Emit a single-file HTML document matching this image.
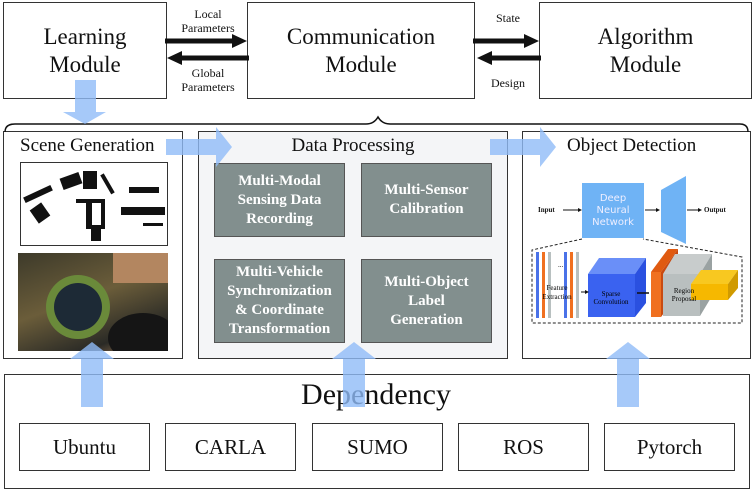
<!DOCTYPE html>
<html><head><meta charset="utf-8"><style>
body{margin:0;width:752px;height:490px;background:#fff;position:relative;overflow:hidden;font-family:"Liberation Serif",serif;color:#111}
.b{position:absolute;border:1.3px solid #333;box-sizing:border-box;background:#fff}
.c{display:flex;align-items:center;justify-content:center;text-align:center}
.g{position:absolute;background:#828f8e;border:1.5px solid #555;box-sizing:border-box;color:#fff;font-weight:bold;font-size:15px;line-height:19px;display:flex;align-items:center;justify-content:center;text-align:center}
.t{position:absolute;font-size:12px;text-align:center;line-height:14px}
.d{position:absolute;top:423px;height:48px;width:131px;font-size:21px}
svg{position:absolute;left:0;top:0}
</style></head><body>
<div class="b c" style="left:3px;top:2px;width:164px;height:97px;font-size:23px;line-height:28px">Learning<br>Module</div>
<div class="b c" style="left:247px;top:2px;width:228px;height:97px;font-size:23px;line-height:28px">Communication<br>Module</div>
<div class="b c" style="left:539px;top:2px;width:213px;height:97px;font-size:23px;line-height:28px">Algorithm<br>Module</div>
<div class="t" style="left:170px;top:7px;width:76px">Local<br>Parameters</div>
<div class="t" style="left:170px;top:66px;width:76px">Global<br>Parameters</div>
<div class="t" style="left:480px;top:11px;width:56px">State</div>
<div class="t" style="left:480px;top:76px;width:56px">Design</div>

<div class="b" style="left:3px;top:131px;width:180px;height:228px"></div>
<div style="position:absolute;left:20px;top:135px;font-size:19px">Scene Generation</div>
<div style="position:absolute;left:20px;top:162px;width:146px;height:82px;border:1px solid #333;background:#fff;overflow:hidden">
<svg width="146" height="82"><g fill="#111">
<rect x="40" y="12" width="20" height="12" transform="rotate(-20 50 18)"/><rect x="62" y="8" width="14" height="18"/><rect x="84" y="10" width="4" height="22" transform="rotate(-30 86 20)"/><rect x="100" y="44" width="44" height="8"/><rect x="65" y="36" width="6" height="30"/><rect x="80" y="36" width="4" height="30"/><rect x="2" y="28" width="30" height="6" transform="rotate(-25 17 31)"/><rect x="12" y="42" width="14" height="16" transform="rotate(-35 19 50)"/><rect x="108" y="24" width="30" height="6"/><rect x="55" y="36" width="28" height="4"/><rect x="70" y="62" width="10" height="16"/><rect x="122" y="60" width="20" height="3"/></g></svg></div>
<div style="position:absolute;left:18px;top:253px;width:150px;height:98px;background:linear-gradient(160deg,#3d3a2a,#6b5d3a 45%,#2a2a26 80%,#b08458);overflow:hidden">
<div style="position:absolute;left:28px;top:22px;width:64px;height:64px;border-radius:50%;background:#6a8a3a"></div>
<div style="position:absolute;left:36px;top:30px;width:48px;height:48px;border-radius:50%;background:#1d2a36"></div>
<div style="position:absolute;left:95px;top:0;width:55px;height:30px;background:#b38660"></div>
<div style="position:absolute;left:90px;top:60px;width:70px;height:50px;border-radius:50%;background:#151515"></div></div>

<div class="b" style="left:198px;top:131px;width:310px;height:228px;background:#f4f5f7"></div>
<div style="position:absolute;left:198px;top:135px;width:310px;text-align:center;font-size:19px">Data Processing</div>
<div class="g" style="left:214px;top:163px;width:131px;height:74px">Multi-Modal<br>Sensing Data<br>Recording</div>
<div class="g" style="left:361px;top:163px;width:131px;height:74px">Multi-Sensor<br>Calibration</div>
<div class="g" style="left:214px;top:259px;width:131px;height:84px">Multi-Vehicle<br>Synchronization<br>&amp; Coordinate<br>Transformation</div>
<div class="g" style="left:361px;top:259px;width:131px;height:84px">Multi-Object<br>Label<br>Generation</div>

<div class="b" style="left:522px;top:131px;width:229px;height:228px"></div>
<div style="position:absolute;left:567px;top:135px;font-size:19px">Object Detection</div>
<div class="c" style="position:absolute;left:582px;top:183px;width:62px;height:55px;background:#6fb3f5;color:#eef;font-family:'DejaVu Sans',sans-serif;font-size:10px;line-height:12px">Deep<br>Neural<br>Network</div>
<div class="t" style="left:538px;top:203px;font-size:7px;font-weight:bold">Input</div>
<div class="t" style="left:704px;top:203px;font-size:7px;font-weight:bold">Output</div>

<div class="b" style="left:4px;top:374px;width:746px;height:115px"></div>
<div style="position:absolute;left:0;top:378px;width:752px;text-align:center;font-size:30px">Dependency</div>
<div class="b c d" style="left:19px">Ubuntu</div>
<div class="b c d" style="left:165px">CARLA</div>
<div class="b c d" style="left:312px">SUMO</div>
<div class="b c d" style="left:458px">ROS</div>
<div class="b c d" style="left:604px">Pytorch</div>

<svg width="752" height="490">
<defs><marker id="a" markerWidth="4" markerHeight="4" refX="2" refY="2" orient="auto"><path d="M0,0L4,2L0,4z" fill="#111"/></marker></defs>
<!-- black arrows -->
<path d="M165,41H237" stroke="#111" stroke-width="5"/><path d="M232,34L247,41L232,48z" fill="#111"/>
<path d="M249,58H178" stroke="#111" stroke-width="5"/><path d="M182,51L167,58L182,65z" fill="#111"/>
<path d="M473,41H529" stroke="#111" stroke-width="5"/><path d="M524,34L539,41L524,48z" fill="#111"/>
<path d="M541,58H488" stroke="#111" stroke-width="5"/><path d="M492,51L477,58L492,65z" fill="#111"/>
<!-- brace -->
<path d="M5,132Q5,124 15,124H366Q374,124 378,117Q382,124 390,124H740Q748,124 748,132" fill="none" stroke="#111" stroke-width="1.5"/>
<g fill="#90bcf8" opacity="0.8">
<path d="M75,80H96V112H106L85,124L63,112H75Z"/>
<path d="M166,139H216V127L232,147L216,167V155H166Z"/>
<path d="M490,139H540V127L556,147L540,167V155H490Z"/>
<path d="M81,407V359H70L92,342L114,359H103V407Z"/>
<path d="M343,407V359H332L354,342L376,359H365V407Z"/>
<path d="M617,407V359H606L628,342L650,359H639V407Z"/>
</g>
<!-- object detection details -->
<path d="M563,210H580" stroke="#111" stroke-width="1" marker-end="url(#a)"/>
<path d="M645,210H658" stroke="#111" stroke-width="1" marker-end="url(#a)"/>
<path d="M687,210H700" stroke="#111" stroke-width="1" marker-end="url(#a)"/>
<path d="M661,190L686,176V244L661,232Z" fill="#6fb3f5"/>
<path d="M582,239L532,250V323H742V257L643,239" fill="none" stroke="#222" stroke-dasharray="3,2"/>
<rect x="536" y="252" width="3" height="66" fill="#4a72e8"/><rect x="542" y="252" width="3" height="66" fill="#f07020"/><rect x="548" y="252" width="3" height="66" fill="#b8c0c0"/>
<rect x="564" y="252" width="3" height="66" fill="#4a72e8"/><rect x="570" y="252" width="3" height="66" fill="#f07020"/><rect x="576" y="252" width="3" height="66" fill="#b8c0c0"/>
<path d="M588,274L599,258H646L635,274Z" fill="#6a8ff8"/><path d="M635,274L646,258V303L635,317Z" fill="#2a50e0"/><rect x="588" y="274" width="47" height="43" fill="#3a62f0"/>
<path d="M651,272L668,249H678L661,272Z" fill="#e05a10"/><rect x="651" y="272" width="10" height="45" fill="#f07020"/><path d="M661,272L678,249V294L661,317Z" fill="#c94a10"/>
<path d="M663,274L675,254H712L700,274Z" fill="#c8cccc"/><rect x="663" y="274" width="37" height="42" fill="#b9bfbf"/><path d="M700,274L712,254V296L700,316Z" fill="#9aa2a2"/>
<path d="M691,284L701,270H738L728,284Z" fill="#f8c820"/><rect x="691" y="284" width="37" height="16" fill="#f6b800"/><path d="M728,284L738,270V288L728,300Z" fill="#d09a00"/>
<path d="M581,292H587" stroke="#111" stroke-width="1" marker-end="url(#a)"/><path d="M637,293H649" stroke="#111" stroke-width="1.5"/>
<text x="557" y="290" font-size="7" text-anchor="middle" font-family="Liberation Serif">Feature</text>
<text x="557" y="299" font-size="7" text-anchor="middle" font-family="Liberation Serif">Extraction</text>
<text x="611" y="296" font-size="7" text-anchor="middle" font-family="Liberation Serif">Sparse</text>
<text x="611" y="304" font-size="7" text-anchor="middle" font-family="Liberation Serif">Convolution</text>
<text x="684" y="293" font-size="7" text-anchor="middle" font-family="Liberation Serif">Region</text>
<text x="684" y="301" font-size="7" text-anchor="middle" font-family="Liberation Serif">Proposal</text>
<text x="558" y="267" font-size="7" font-family="Liberation Serif">...</text>
</svg>
</body></html>
